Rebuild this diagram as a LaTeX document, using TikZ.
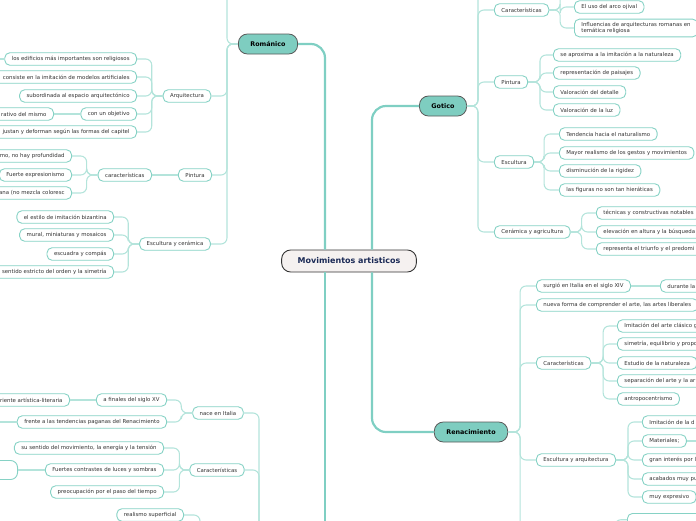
\documentclass[tikz,border=0pt]{standalone}
\usepackage{fontspec}
\setmainfont{DejaVu Sans}
\usepackage{xcolor}
\usetikzlibrary{positioning}
\definecolor{verde}{HTML}{7ECDC0}
\definecolor{borde}{HTML}{86D2C5}
\definecolor{linea}{HTML}{B4E4DB}
\definecolor{tronco}{HTML}{7FCFC3}
\definecolor{centro}{HTML}{F5F1F0}
\definecolor{azul}{HTML}{1B2A56}
\definecolor{texto}{HTML}{333333}

\begin{document}
\begin{tikzpicture}[x=1pt, y=-1pt,
  raiz/.style={draw=black!80, fill=centro, line width=0.9pt, rounded corners=9pt, minimum height=22pt, inner xsep=16pt, text=azul, font=\fontsize{8}{9}\selectfont\bfseries},
  rama/.style={draw=black!65, fill=verde, line width=0.8pt, rounded corners=9pt, minimum height=20pt, inner xsep=12pt, font=\fontsize{6.4}{7.5}\selectfont\bfseries},
  hoja/.style={draw=borde, fill=white, line width=0.9pt, rounded corners=5pt, minimum height=12.5pt, inner xsep=7pt, inner ysep=2pt, text=texto, font=\fontsize{5.4}{6.5}\selectfont},
  izq/.style={hoja, anchor=east},
  der/.style={hoja, anchor=west},
  tallo/.style={draw=tronco, line width=2.2pt, rounded corners=14pt},
  enlace/.style={draw=linea, line width=1.1pt, rounded corners=6pt}]

  \useasboundingbox (0,0) rectangle (696,520);
  \clip (0,0) rectangle (696,520);

  % Define coordinates for nodes
  \node[raiz] (mov) at (349,261) {Movimientos artisticos};

  % Romanico
  \node[rama] (rom) at (268,44) {Románico};
  \node[hoja] (rarq) at (187,96) {Arquitectura};
  \node[izq] (edif) at (137,59) {los edificios más importantes son religiosos};
  \node[izq] (cons) at (137,77) {\hspace{20pt}consiste en la imitación de modelos artificiales};
  \node[izq] (subo) at (137,96) {subordinada al espacio arquitectónico};
  \node[izq] (obje) at (137,114) {con un objetivo};
  \node[izq] (deco) at (54,114) {\hspace{20pt}rativo del mismo};
  \node[izq] (ajus) at (137,132) {\hspace{20pt}justan y deforman según las formas del capitel};
  \node[hoja] (rpin) at (195,175) {Pintura};
  \node[izq] (rcar) at (152,175) {características};
  \node[izq] (prof) at (72,156) {\hspace{20pt}mo, no hay profundidad};
  \node[izq] (expr) at (72,175) {Fuerte expresionismo};
  \node[izq] (mezc) at (72,193) {\hspace{20pt}ana (no mezcla coloresc};
  \node[hoja] (resc) at (175,244) {Escultura y cerámica};
  \node[izq] (biza) at (114,217) {el estilo de imitación bizantina};
  \node[izq] (mura) at (114,235) {mural, miniaturas y mosaicos};
  \node[izq] (escu) at (114,254) {escuadra y compás};
  \node[izq] (orde) at (114,272) {\hspace{20pt}sentido estricto del orden y la simetría};

  % lower left branch
  \node[hoja] (nace) at (218,413) {nace en Italia};
  \node[izq] (fina) at (167,400) {a finales del siglo XV};
  \node[izq] (corr) at (70,400) {\hspace{20pt}riente artística-literaria};
  \node[izq] (fren) at (167,422) {frente a las tendencias paganas del Renacimiento};
  \node[hoja] (bcar) at (217,470) {Características};
  \node[izq] (sent) at (164,448) {su sentido del movimiento, la energía y la tensión};
  \node[izq] (luce) at (164,470) {Fuertes contrastes de luces y sombras};
  \node[izq, minimum width=40pt, minimum height=19pt, rounded corners=7pt] (luz2) at (18,470) {};
  \node[izq] (tiem) at (164,492) {preocupación por el paso del tiempo};
  \node[izq] (real) at (184,515) {realismo superficial};

  % Gotico
  \node[rama] (got) at (443,106) {Gotico};
  \node[der] (gcar) at (494,10) {Características};
  \node[der] (ojiv) at (574,7) {El uso del arco ojival};
  \node[der, align=left, inner ysep=3pt] (infl) at (574,28) {Influencias de arquitecturas romanas en\hspace{20pt}\\temática religiosa};
  \node[der] (gpin) at (494,82) {Pintura};
  \node[der] (apro) at (553,55) {se aproxima a la imitación a la naturaleza};
  \node[der] (pais) at (553,73) {representación de paisajes};
  \node[der] (deta) at (553,92) {Valoración del detalle};
  \node[der] (luzg) at (553,110) {Valoración de la luz};
  \node[der] (gesc) at (494,162) {Escultura};
  \node[der] (natu) at (559,134) {Tendencia hacia el naturalismo};
  \node[der] (gest) at (559,153) {Mayor realismo de los gestos y movimientos};
  \node[der] (rigi) at (559,171) {disminución de la rigidez};
  \node[der] (hier) at (559,190) {las figuras no son tan hieráticas};
  \node[der] (gcer) at (494,232) {Cerámica y agricultura};
  \node[der] (tecn) at (596,213) {técnicas y constructivas notables\hspace{10pt}};
  \node[der] (elev) at (596,232) {elevación en altura y la búsqueda\hspace{20pt}};
  \node[der] (triu) at (596,249) {representa el triunfo y el predomi\hspace{20pt}};

  % Renacimiento
  \node[rama] (ren) at (471,432) {Renacimiento};
  \node[der] (surg) at (536,286) {surgió en Italia en el siglo XIV};
  \node[der] (dura) at (660,286) {durante la\hspace{20pt}};
  \node[der] (nuev) at (536,305) {nueva forma de comprender el arte, las artes liberales\hspace{10pt}};
  \node[der] (rcar2) at (536,363) {Características};
  \node[der] (clas) at (617,326) {Imitación del arte clásico g\hspace{20pt}};
  \node[der] (sime) at (617,344) {simetría, equilibrio y propo\hspace{20pt}};
  \node[der] (estu) at (617,363) {Estudio de la naturaleza\hspace{10pt}};
  \node[der] (sepa) at (617,381) {separación del arte y la ar\hspace{20pt}};
  \node[der] (antr) at (617,399) {antropocentrismo};
  \node[der] (resc2) at (536,460) {Escultura y arquitectura};
  \node[der] (imit) at (642,422) {Imitación de la d\hspace{20pt}};
  \node[der] (mate) at (642,441) {Materiales;};
  \node[der] (inte) at (642,460) {gran interés por l\hspace{20pt}};
  \node[der] (acab) at (642,479) {acabados muy pu\hspace{20pt}};
  \node[der] (expv) at (642,497) {muy expresivo};
  \node[hoja, anchor=north west, minimum width=90pt] (rarq2) at (627,513) {};

  % ends outside the page
  \coordinate (romArr) at (200,-30);
  \coordinate (gotArr) at (510,-30);
  \coordinate (gcarArr) at (590,-20);
  \coordinate (edifIzq) at (-20,59);
  \coordinate (frenIzq) at (-20,422);
  \coordinate (barr) at (259,560);
  \coordinate (realAb) at (200,560);
  \coordinate (renAb) at (560,560);
  \coordinate (mateDer) at (720,441);
  \coordinate (rarqAb) at (615,560);
  \coordinate (movAb) at (325,560);

  % Draw lines between nodes
  \draw[tallo] (rom.east) -| ([xshift=-24pt]mov.north);
  \draw[tallo] ([xshift=-24pt]mov.south) -- (movAb);
  \draw[tallo] (got.west) -| ([xshift=23pt]mov.north);
  \draw[tallo] ([xshift=23pt]mov.south) |- (ren.west);

  \draw[enlace] (rom.west) -- ++(-11,0) |- (romArr);
  \draw[enlace] (rom.west) -- ++(-11,0) |- (rarq.east);
  \draw[enlace] (rom.west) -- ++(-11,0) |- (rpin.east);
  \draw[enlace] (rom.west) -- ++(-11,0) |- (resc.east);
  \draw[enlace] (rarq.west) -- ++(-11,0) |- (edif.east);
  \draw[enlace] (rarq.west) -- ++(-11,0) |- (cons.east);
  \draw[enlace] (rarq.west) -- ++(-11,0) |- (subo.east);
  \draw[enlace] (rarq.west) -- ++(-11,0) |- (obje.east);
  \draw[enlace] (rarq.west) -- ++(-11,0) |- (ajus.east);
  \draw[enlace] (edif.west) -- (edifIzq);
  \draw[enlace] (obje.west) -- (deco.east);
  \draw[enlace] (rpin.west) -- (rcar.east);
  \draw[enlace] (rcar.west) -- ++(-11,0) |- (prof.east);
  \draw[enlace] (rcar.west) -- ++(-11,0) |- (expr.east);
  \draw[enlace] (rcar.west) -- ++(-11,0) |- (mezc.east);
  \draw[enlace] (resc.west) -- ++(-11,0) |- (biza.east);
  \draw[enlace] (resc.west) -- ++(-11,0) |- (mura.east);
  \draw[enlace] (resc.west) -- ++(-11,0) |- (escu.east);
  \draw[enlace] (resc.west) -- ++(-11,0) |- (orde.east);

  \draw[enlace] (nace.east) -| (barr);
  \draw[enlace] (bcar.east) -| (barr);
  \draw[enlace] (nace.west) -- ++(-11,0) |- (fina.east);
  \draw[enlace] (nace.west) -- ++(-11,0) |- (fren.east);
  \draw[enlace] (fina.west) -- (corr.east);
  \draw[enlace] (fren.west) -- (frenIzq);
  \draw[enlace] (bcar.west) -- ++(-10,0) |- (sent.east);
  \draw[enlace] (bcar.west) -- ++(-10,0) |- (luce.east);
  \draw[enlace] (bcar.west) -- ++(-10,0) |- (tiem.east);
  \draw[enlace] (luce.west) -- (luz2.east);
  \draw[enlace] (real.east) -| (realAb);

  \draw[enlace] (got.east) -- ++(11,0) |- (gotArr);
  \draw[enlace] (got.east) -- ++(11,0) |- (gcar.west);
  \draw[enlace] (got.east) -- ++(11,0) |- (gpin.west);
  \draw[enlace] (got.east) -- ++(11,0) |- (gesc.west);
  \draw[enlace] (got.east) -- ++(11,0) |- (gcer.west);
  \draw[enlace] (gcar.east) -- ++(11,0) |- (gcarArr);
  \draw[enlace] (gcar.east) -- ++(11,0) |- (ojiv.west);
  \draw[enlace] (gcar.east) -- ++(11,0) |- (infl.west);
  \draw[enlace] (gpin.east) -- ++(12,0) |- (apro.west);
  \draw[enlace] (gpin.east) -- ++(12,0) |- (pais.west);
  \draw[enlace] (gpin.east) -- ++(12,0) |- (deta.west);
  \draw[enlace] (gpin.east) -- ++(12,0) |- (luzg.west);
  \draw[enlace] (gesc.east) -- ++(10,0) |- (natu.west);
  \draw[enlace] (gesc.east) -- ++(10,0) |- (gest.west);
  \draw[enlace] (gesc.east) -- ++(10,0) |- (rigi.west);
  \draw[enlace] (gesc.east) -- ++(10,0) |- (hier.west);
  \draw[enlace] (gcer.east) -- ++(11,0) |- (tecn.west);
  \draw[enlace] (gcer.east) -- ++(11,0) |- (elev.west);
  \draw[enlace] (gcer.east) -- ++(11,0) |- (triu.west);

  \draw[enlace] (ren.east) -- ++(12,0) |- (surg.west);
  \draw[enlace] (ren.east) -- ++(12,0) |- (nuev.west);
  \draw[enlace] (ren.east) -- ++(12,0) |- (rcar2.west);
  \draw[enlace] (ren.east) -- ++(12,0) |- (resc2.west);
  \draw[enlace] (ren.east) -- ++(12,0) |- (renAb);
  \draw[enlace] (surg.east) -- (dura.west);
  \draw[enlace] (rcar2.east) -- ++(12,0) |- (clas.west);
  \draw[enlace] (rcar2.east) -- ++(12,0) |- (sime.west);
  \draw[enlace] (rcar2.east) -- ++(12,0) |- (estu.west);
  \draw[enlace] (rcar2.east) -- ++(12,0) |- (sepa.west);
  \draw[enlace] (rcar2.east) -- ++(12,0) |- (antr.west);
  \draw[enlace] (resc2.east) -- ++(12,0) |- (imit.west);
  \draw[enlace] (resc2.east) -- ++(12,0) |- (mate.west);
  \draw[enlace] (resc2.east) -- ++(12,0) |- (inte.west);
  \draw[enlace] (resc2.east) -- ++(12,0) |- (acab.west);
  \draw[enlace] (resc2.east) -- ++(12,0) |- (expv.west);
  \draw[enlace] (mate.east) -- (mateDer);
  \draw[enlace] (rarq2.west) -| (rarqAb);
\end{tikzpicture}
\end{document}
